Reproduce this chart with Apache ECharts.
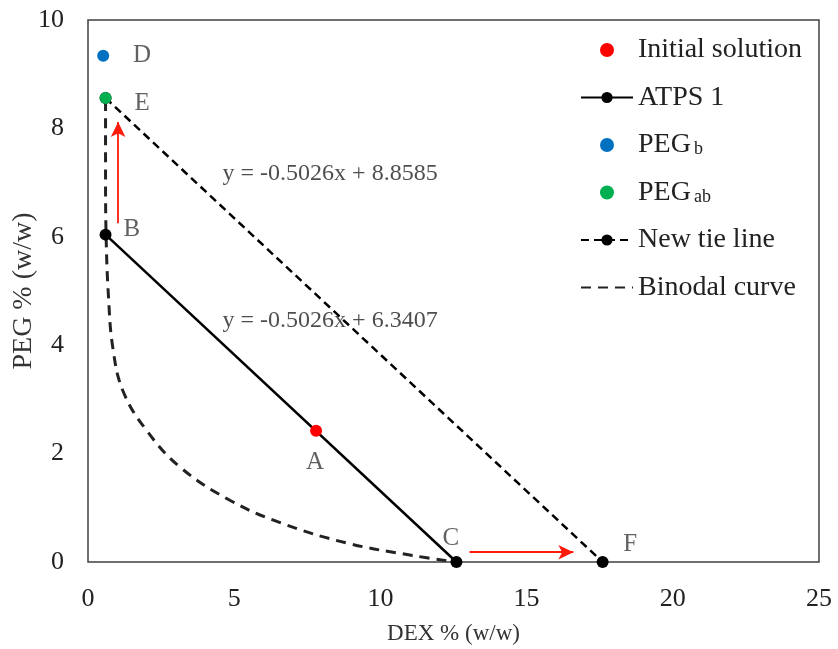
<!DOCTYPE html>
<html>
<head>
<meta charset="utf-8">
<script src="https://cdn.jsdelivr.net/npm/echarts@6/dist/echarts.min.js"></script>
<style>
  html, body { margin: 0; padding: 0; background: #fff; }
  #chart { width: 838px; height: 649px; }
</style>
</head>
<body>
<div id="chart"></div>
<script>
// data
var initialSolution = [[7.8, 2.42]]            // A
var atps1 = [[0.6, 6.04], [12.6, 0]]           // B -> C
var pegB = [[0.52, 9.34]]                      // D
var pegAB = [[0.6, 8.56]]                      // E
var newTieLine = [[0.6, 8.56], [17.6, 0]]      // E -> F
var binodal = [
  [0.6, 8.5], [0.6, 7.2], [0.62, 6.0], [0.7, 4.9], [0.85, 3.95], [1.2, 3.15],
  [2.0, 2.43], [3.15, 1.75], [4.85, 1.14], [6.6, 0.72], [8.85, 0.35],
  [11.1, 0.12], [12.6, 0]
]
var arrows = [
  [[1.03, 6.25], [1.03, 8.12]],
  [[13.05, 0.18], [16.6, 0.18]]
]
var pointLabels = [
  [1.85, 9.34, 'D'], [1.85, 8.46, 'E'], [1.5, 6.14, 'B'],
  [7.76, 1.84, 'A'], [12.41, 0.44, 'C'], [18.54, 0.33, 'F']
]
var equations = [
  [8.28, 7.17, 'y = -0.5026x + 8.8585'],
  [8.28, 4.45, 'y = -0.5026x + 6.3407']
]
var xTicks = { min: 0, max: 25, interval: 5 }
var yTicks = { min: 0, max: 10, interval: 2 }

var serif = 'Liberation Serif'
var chart = echarts.init(document.getElementById('chart'))

chart.setOption({
  animation: false,
  textStyle: { fontFamily: serif },
  grid: {
    left: 88, right: 19, top: 20, bottom: 87,
    outerBoundsMode: 'none',
    containLabel: false,
    show: true, borderColor: '#404040', borderWidth: 1.5
  },
  legend: {
    orient: 'vertical',
    left: 575,
    top: 31,
    itemWidth: 52,
    itemHeight: 14,
    itemGap: 19.5,
    data: [
      'Initial solution', 'ATPS 1', 'PEGb', 'PEGab', 'New tie line',
      { name: 'Binodal curve', itemStyle: { opacity: 0 } }
    ],
    formatter: function(name) {
      if (name === 'PEGb') return 'PEG{sub|b}'
      if (name === 'PEGab') return 'PEG{sub|ab}'
      return name
    },
    textStyle: {
      fontFamily: serif,
      fontSize: 28,
      color: '#222',
      rich: {
        sub: { fontFamily: serif, fontSize: 18, color: '#222', padding: [9, 0, 0, 3] }
      }
    }
  },
  xAxis: {
    type: 'value',
    min: xTicks.min, max: xTicks.max, interval: xTicks.interval,
    name: 'DEX % (w/w)',
    nameLocation: 'middle',
    nameGap: 60,
    nameMoveOverlap: false,
    nameTextStyle: { fontFamily: serif, fontSize: 23, color: '#333' },
    axisLine: { show: false },
    axisTick: { show: false },
    splitLine: { show: false },
    axisLabel: { fontFamily: serif, fontSize: 26, color: '#222', margin: 24 }
  },
  yAxis: {
    type: 'value',
    min: yTicks.min, max: yTicks.max, interval: yTicks.interval,
    name: 'PEG % (w/w)',
    nameLocation: 'middle',
    nameGap: 50,
    nameMoveOverlap: false,
    nameTextStyle: { fontFamily: serif, fontSize: 28, color: '#333' },
    axisLine: { show: false },
    axisTick: { show: false },
    splitLine: { show: false },
    axisLabel: { fontFamily: serif, fontSize: 26, color: '#222', margin: 24 }
  },
  series: [
    {
      name: 'Binodal curve',
      type: 'line',
      data: binodal,
      smooth: 0.4,
      showSymbol: false,
      symbol: 'none',
      lineStyle: { color: '#222', width: 3, type: [10, 7] },
      itemStyle: { color: '#222' },
      z: 2
    },
    {
      name: 'ATPS 1',
      type: 'line',
      data: atps1,
      symbol: 'circle',
      symbolSize: 12,
      lineStyle: { color: '#000', width: 2.5 },
      itemStyle: { color: '#000' },
      z: 3
    },
    {
      name: 'New tie line',
      type: 'line',
      data: newTieLine,
      symbol: 'circle',
      symbolSize: 12,
      lineStyle: { color: '#000', width: 2.5, type: [8, 5] },
      itemStyle: { color: '#000' },
      z: 3
    },
    {
      name: 'Initial solution',
      type: 'scatter',
      data: initialSolution,
      symbolSize: 12,
      itemStyle: { color: '#ff0000', opacity: 1 },
      z: 5
    },
    {
      name: 'PEGb',
      type: 'scatter',
      data: pegB,
      symbolSize: 12,
      itemStyle: { color: '#0070c0', opacity: 1 },
      z: 5
    },
    {
      name: 'PEGab',
      type: 'scatter',
      data: pegAB,
      symbolSize: 12,
      itemStyle: { color: '#00b050', opacity: 1 },
      z: 6
    },
    {
      name: 'arrows',
      type: 'line',
      data: [],
      silent: true,
      markLine: {
        silent: true,
        symbol: ['none', 'arrow'],
        symbolSize: [11, 15],
        label: { show: false },
        lineStyle: { color: '#ff1a0a', width: 1.8, type: 'solid' },
        data: arrows.map(function(a) {
          return [{ coord: a[0] }, { coord: a[1] }]
        })
      }
    },
    {
      name: 'point labels',
      type: 'scatter',
      data: pointLabels,
      symbolSize: 0,
      silent: true,
      label: {
        show: true,
        position: 'inside',
        formatter: function(p) { return p.value[2] },
        fontFamily: serif,
        fontSize: 25,
        color: '#3a3a3a'
      }
    },
    {
      name: 'equations',
      type: 'scatter',
      data: equations,
      symbolSize: 0,
      silent: true,
      label: {
        show: true,
        position: 'inside',
        formatter: function(p) { return p.value[2] },
        fontFamily: serif,
        fontSize: 24,
        color: '#222'
      }
    }
  ]
})
</script>
</body>
</html>
